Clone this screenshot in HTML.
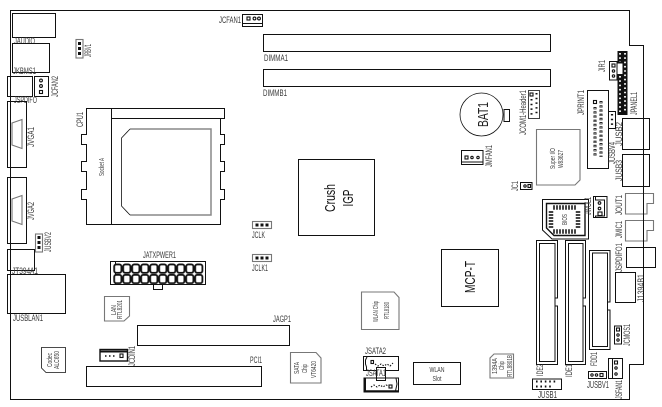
<!DOCTYPE html>
<html><head><meta charset="utf-8"><style>
html,body{margin:0;padding:0;background:#fff;width:662px;height:407px;overflow:hidden}
svg{display:block}
text{font-family:"Liberation Sans",sans-serif;font-size:9.5px;fill:#3a3a3a}
.b{fill:none;stroke:#111;stroke-width:1}
.t{fill:none;stroke:#111;stroke-width:.8}
.g{fill:#fff;stroke:#777;stroke-width:1.1}
.p{fill:none;stroke:#111;stroke-width:1.1}
</style></head><body>
<svg width="662" height="407" viewBox="0 0 662 407" xmlns="http://www.w3.org/2000/svg">
<defs>
<pattern id="atx" x="113.3" y="263.5" width="9" height="10.4" patternUnits="userSpaceOnUse">
<rect x=".9" y=".9" width="7.2" height="8.4" rx="2" fill="#fff" stroke="#111" stroke-width="1.8"/>
</pattern>
</defs>
<rect width="662" height="407" fill="#fff"/>
<!-- board -->
<path class="b" d="M10.5 10.5H629.5V45.5H643.5V364.5H629.5V399.5H10.5Z"/>

<!-- left connectors -->
<rect class="b" x="12.5" y="13.5" width="43" height="24" style="fill:#fff"/>
<text x="14" y="44" textLength="21" lengthAdjust="spacingAndGlyphs">JAUDIO</text>
<rect class="b" x="12.5" y="43.5" width="37" height="29"/>
<text x="13" y="74" textLength="23" lengthAdjust="spacingAndGlyphs">JKBMS1</text>
<rect class="b" x="7.5" y="76.5" width="25" height="20"/>
<rect class="b" x="34.5" y="76.5" width="14" height="20"/>
<circle cx="41" cy="80.5" r="1.4" class="p"/><circle cx="41" cy="86" r="1.4" class="p"/><rect x="39.5" y="90.5" width="3" height="3" class="p"/>
<text transform="translate(58,97) rotate(-90)" textLength="21" lengthAdjust="spacingAndGlyphs">JCFAN2</text>
<text x="14" y="103" textLength="23" lengthAdjust="spacingAndGlyphs">JSPDIFO</text>
<rect class="g" x="76" y="39.5" width="7" height="18.5"/>
<path class="p" d="M79.5 42v14" stroke-dasharray="3 2" style="stroke-width:3"/>
<text transform="translate(91,57) rotate(-90)" textLength="13" lengthAdjust="spacingAndGlyphs">JRBV1</text>

<rect class="b" x="7.5" y="101.5" width="19" height="66"/>
<path class="g" d="M22 119.5 L12 123V145L22 148.5Z"/>
<text transform="translate(34,147) rotate(-90)" textLength="20" lengthAdjust="spacingAndGlyphs">JVGA1</text>
<rect class="b" x="7.5" y="177.5" width="19" height="66"/>
<path class="g" d="M22 195.5 L12 199V221L22 224.5Z"/>
<text transform="translate(34,220) rotate(-90)" textLength="18" lengthAdjust="spacingAndGlyphs">JVGA2</text>
<rect class="g" x="35.5" y="234" width="7" height="18"/>
<path class="p" d="M39 236v15" stroke-dasharray="3 2" style="stroke-width:3"/>
<text transform="translate(51,252) rotate(-90)" textLength="20" lengthAdjust="spacingAndGlyphs">JUSBV2</text>
<rect class="b" x="7.5" y="249.5" width="27" height="21"/>
<text x="12" y="274" textLength="26" lengthAdjust="spacingAndGlyphs">JT394A1</text>
<rect class="b" x="7.5" y="274.5" width="58" height="39"/>
<text x="13" y="321" textLength="30" lengthAdjust="spacingAndGlyphs">JUSBLAN1</text>

<!-- CPU socket -->
<path class="b" d="M86.5 108.5H224.5V118.5H220.5V134.5H224.5V144.5H220.5V161.5H224.5V171.5H220.5V189.5H224.5V199.5H220.5V224.5H86.5V199.5H81.5V189.5H86.5V171.5H81.5V161.5H86.5V144.5H81.5V134.5H86.5Z"/>
<path class="b" d="M111.5 108.5V224.5M111.5 118.5H224.5"/>
<path fill="none" stroke="#888" stroke-width="1.5" d="M130 129H211V215H130"/>
<path class="t" d="M130 129L121.5 138V206L130 215"/>
<text transform="translate(83,127) rotate(-90)" textLength="15" lengthAdjust="spacingAndGlyphs">CPU1</text>
<text transform="translate(104,176) rotate(-90)" textLength="18" lengthAdjust="spacingAndGlyphs" style="font-size:7px">Socket A</text>

<!-- top -->
<text x="219" y="23" textLength="22" lengthAdjust="spacingAndGlyphs">JCFAN1</text>
<rect class="b" x="242.5" y="14.5" width="20" height="12"/>
<path class="b" d="M242.5 23.5H262.5"/>
<rect x="247" y="17" width="3" height="3" class="p"/><circle cx="254.5" cy="18.5" r="1.4" class="p"/><circle cx="259" cy="18.5" r="1.4" class="p"/>
<rect class="b" x="263.5" y="34.5" width="287" height="17"/>
<text x="264" y="61" textLength="24" lengthAdjust="spacingAndGlyphs">DIMMA1</text>
<rect class="b" x="263.5" y="69.5" width="287" height="17"/>
<text x="263" y="96" textLength="24" lengthAdjust="spacingAndGlyphs">DIMMB1</text>

<!-- IGP -->
<rect class="b" x="298.5" y="159.5" width="76" height="76"/>
<text transform="translate(335,198) rotate(-90)" text-anchor="middle" style="font-size:15px;fill:#111" textLength="28" lengthAdjust="spacingAndGlyphs">Crush</text>
<text transform="translate(353,198) rotate(-90)" text-anchor="middle" style="font-size:15px;fill:#111" textLength="17" lengthAdjust="spacingAndGlyphs">IGP</text>

<!-- JCLK -->
<rect class="g" x="252.5" y="221.5" width="19" height="7"/>
<path class="p" d="M255.5 225h14" stroke-dasharray="3 2" style="stroke-width:3"/>
<text x="252" y="238" textLength="13" lengthAdjust="spacingAndGlyphs">JCLK</text>
<rect class="g" x="252.5" y="254.5" width="19" height="7"/>
<path class="p" d="M255.5 258h14" stroke-dasharray="3 2" style="stroke-width:3"/>
<text x="252" y="271" textLength="16" lengthAdjust="spacingAndGlyphs">JCLK1</text>

<!-- ATX -->
<text x="143" y="258" textLength="33" lengthAdjust="spacingAndGlyphs">JATXPWER1</text>
<rect class="b" x="110.5" y="261.5" width="95" height="23"/>
<path class="b" d="M115.5 261.5V284.5"/>
<rect x="113.3" y="263.5" width="90" height="20.8" fill="url(#atx)"/>
<path class="b" d="M153.5 284.5V289.5H162.5V284.5"/>

<!-- LAN / Codec -->
<path class="g" d="M104.5 296.5H129.5V316L124 321H104.5Z"/>
<text transform="translate(116,315) rotate(-90)" style="font-size:7px" textLength="10" lengthAdjust="spacingAndGlyphs">LAN</text>
<text transform="translate(122,319) rotate(-90)" style="font-size:7px" textLength="19" lengthAdjust="spacingAndGlyphs">RTL8201</text>
<path class="t" d="M41.5 347.5H65.5V372.5H46L41.5 368Z"/>
<text transform="translate(52,367) rotate(-90)" style="font-size:7px" textLength="14" lengthAdjust="spacingAndGlyphs">Codec</text>
<text transform="translate(59,369) rotate(-90)" style="font-size:7px" textLength="18" lengthAdjust="spacingAndGlyphs">ALC650</text>
<rect x="100" y="349.5" width="27.5" height="11.5" fill="none" stroke="#111" stroke-width="1.4"/>
<path d="M100 351.5H127.5" stroke="#111" stroke-width="2" fill="none"/>
<path class="p" d="M105 356h11" stroke-dasharray="1.5 2.5" style="stroke-width:1.5"/>
<rect x="120" y="354" width="3" height="3.5" class="p"/>
<text transform="translate(135,366) rotate(-90)" textLength="20" lengthAdjust="spacingAndGlyphs">JCDIN1</text>

<rect class="b" x="137.5" y="325.5" width="152" height="20"/>
<text x="273" y="322" textLength="18" lengthAdjust="spacingAndGlyphs">JAGP1</text>
<rect class="b" x="86.5" y="366.5" width="175" height="20"/>
<text x="250" y="363" textLength="12" lengthAdjust="spacingAndGlyphs">PCI1</text>

<path class="g" d="M290.5 352.5H316L321 358V383H290.5Z"/>
<text transform="translate(299,374) rotate(-90)" style="font-size:7px" textLength="12" lengthAdjust="spacingAndGlyphs">SATA</text>
<text transform="translate(307,373) rotate(-90)" style="font-size:7px" textLength="9" lengthAdjust="spacingAndGlyphs">Chip</text>
<text transform="translate(316,378) rotate(-90)" style="font-size:7px" textLength="17" lengthAdjust="spacingAndGlyphs">VT6420</text>
<path class="g" d="M361.5 292H394L399 297.5V329.5H361.5Z"/>
<text transform="translate(378,322) rotate(-90)" style="font-size:7.5px" textLength="21" lengthAdjust="spacingAndGlyphs">WLAN Chip</text>
<text transform="translate(389,319) rotate(-90)" style="font-size:7.5px" textLength="17" lengthAdjust="spacingAndGlyphs">RTL8180</text>

<!-- SATA connectors -->
<text x="365" y="354" textLength="21" lengthAdjust="spacingAndGlyphs">JSATA2</text>
<rect class="b" x="363.5" y="356.5" width="35" height="14"/>
<path class="b" d="M366.5 370.5V367L365.5 364V360L367 357"/>
<rect x="371" y="360.5" width="2.5" height="3" class="p"/>
<path class="p" d="M375 364l3 2 3-2 3 2 3-2 3 2 3-3" stroke-dasharray="1.5 1.5"/>
<rect class="b" x="376.5" y="367.5" width="9" height="13" style="fill:#fff"/>
<text x="366" y="376" textLength="20" lengthAdjust="spacingAndGlyphs">JSATA1</text>
<rect x="364" y="378" width="34.5" height="14" fill="none" stroke="#111" stroke-width="1"/>
<path d="M365 378V392" stroke="#111" stroke-width="2"/>
<path d="M365 391H398" stroke="#111" stroke-width="1.5"/>
<path class="p" d="M371 387l3-2 3 2 3-2 3 2 3-2 3 1" stroke-dasharray="1.5 1.5"/>
<rect x="389" y="385" width="3" height="3" class="p"/>
<path class="b" d="M396 378L397 384L395.5 391"/>
<rect class="b" x="413.5" y="362.5" width="47" height="22"/>
<text x="437" y="372" text-anchor="middle" style="font-size:7.5px" textLength="15" lengthAdjust="spacingAndGlyphs">WLAN</text>
<text x="437" y="381" text-anchor="middle" style="font-size:7.5px" textLength="9" lengthAdjust="spacingAndGlyphs">Slot</text>

<path class="g" d="M494 354H513.5V378H490V358Z"/>
<text transform="translate(497,374) rotate(-90)" style="font-size:7px" textLength="16" lengthAdjust="spacingAndGlyphs">1394A</text>
<text transform="translate(504,370) rotate(-90)" style="font-size:7px" textLength="9" lengthAdjust="spacingAndGlyphs">Chip</text>
<text transform="translate(512,377) rotate(-90)" style="font-size:7px" textLength="22" lengthAdjust="spacingAndGlyphs">RTL8801B</text>

<!-- BAT -->
<circle cx="481.5" cy="114.5" r="21.5" class="t"/>
<rect class="b" x="504" y="109.5" width="5.5" height="12" style="fill:#fff"/>
<text transform="translate(488,114.5) rotate(-90)" text-anchor="middle" style="font-size:15px;fill:#222" textLength="25" lengthAdjust="spacingAndGlyphs">BAT1</text>
<text transform="translate(526,135) rotate(-90)" textLength="45" lengthAdjust="spacingAndGlyphs">JCOM1-Header1</text>
<rect class="t" x="528.5" y="90.5" width="11" height="28"/>
<rect x="530" y="93" width="3" height="3" class="p"/>
<path class="p" d="M531.5 99v17M536.5 93v23" stroke-dasharray="1.5 3.2" style="stroke-width:2"/>

<!-- Super IO -->
<path class="g" d="M536.5 129.5H580V180L575 185H536.5Z"/>
<text transform="translate(555,169) rotate(-90)" style="font-size:7px" textLength="21" lengthAdjust="spacingAndGlyphs">Super I/O</text>
<text transform="translate(563,168) rotate(-90)" style="font-size:7px" textLength="18" lengthAdjust="spacingAndGlyphs">W83627</text>
<rect class="b" x="461.5" y="150.5" width="21.5" height="14"/>
<path class="b" d="M461.5 162H483"/>
<rect x="465" y="156" width="3" height="3" class="p"/><circle cx="472" cy="157.5" r="1.2" class="p"/><circle cx="478" cy="157.5" r="1.2" class="p"/>
<text transform="translate(492,167) rotate(-90)" textLength="22" lengthAdjust="spacingAndGlyphs">JMFAN1</text>
<text transform="translate(518,191) rotate(-90)" textLength="10" lengthAdjust="spacingAndGlyphs">JC1</text>
<rect class="b" x="520.5" y="182.5" width="11.5" height="7"/>
<circle cx="525" cy="186" r="1.2" class="p"/><rect x="528" y="184.5" width="2.5" height="3" class="p"/>

<!-- BIOS -->
<path class="t" d="M542.5 199.5H588.5V239H552L542.5 230Z" style="stroke-width:1"/>
<path d="M546.5 203.5H585V235.5H554L546.5 228Z" fill="none" stroke="#111" stroke-width="1.4"/>
<path d="M553 207.5H576M553 231.5H576" stroke="#444" stroke-width="4.5" stroke-dasharray="2 1" fill="none"/>
<path d="M551 211V229M578 211V229" stroke="#444" stroke-width="4.5" stroke-dasharray="2 1" fill="none"/>
<text transform="translate(567,225) rotate(-90)" style="font-size:7px" textLength="11" lengthAdjust="spacingAndGlyphs">BIOS</text>
<text transform="translate(591,215) rotate(-90)" textLength="18" lengthAdjust="spacingAndGlyphs">JWOL1</text>
<rect class="b" x="593.5" y="196.5" width="13.5" height="21"/>
<path class="b" d="M595.5 196.5V200H604.5V216H595.5V217.5"/>
<circle cx="599.5" cy="203" r="1.3" class="p"/><circle cx="599.5" cy="208.5" r="1.3" class="p"/><rect x="598" y="212" width="4" height="3.5" class="p"/>

<!-- MCP -->
<rect class="b" x="441.5" y="249.5" width="57" height="57"/>
<text transform="translate(475,277) rotate(-90)" text-anchor="middle" style="font-size:15px;fill:#111" textLength="32" lengthAdjust="spacingAndGlyphs">MCP-T</text>

<!-- IDE / FDD -->
<path class="b" d="M536.5 240.5H557.5V298H555V306H557.5V364.5H536.5Z"/>
<path class="b" d="M555 298V243.5H539.5V361.5H555V306"/>
<text transform="translate(543,376) rotate(-90)" textLength="12" lengthAdjust="spacingAndGlyphs">IDE2</text>
<path class="b" d="M565.5 240.5H585.5V298H583V306H585.5V364.5H565.5Z"/>
<path class="b" d="M583 298V243.5H568.5V361.5H583V306"/>
<text transform="translate(572,377) rotate(-90)" textLength="13" lengthAdjust="spacingAndGlyphs">IDE1</text>
<path class="b" d="M589.5 250.5H610V302H607.5V310H610V349.5H589.5Z"/>
<path class="b" d="M607.5 302V253H592.5V346.5H607.5V310"/>
<text transform="translate(597,366) rotate(-90)" textLength="14" lengthAdjust="spacingAndGlyphs">FDD1</text>

<!-- bottom right -->
<rect class="b" x="532.5" y="379" width="29" height="10.5"/>
<path class="p" d="M536 381.5h22M536 386.5h17" stroke-dasharray="1.6 2.8" style="stroke-width:2"/>
<text x="538" y="398" textLength="19" lengthAdjust="spacingAndGlyphs" style="font-size:10.5px">JUSB1</text>
<rect class="b" x="588.5" y="371.5" width="18" height="7"/>
<circle cx="592" cy="375" r="1.2" class="p"/><circle cx="596.5" cy="375" r="1.2" class="p"/><rect x="600" y="373.5" width="3" height="3" class="p"/>
<text x="587" y="388" textLength="22" lengthAdjust="spacingAndGlyphs" style="font-size:10.5px">JUSBV1</text>
<rect class="b" x="608.5" y="358.5" width="14" height="20"/>
<path class="b" d="M612.5 358.5V378.5"/>
<rect x="614.5" y="361" width="3" height="3" class="p"/><circle cx="616" cy="368" r="1.2" class="p"/><circle cx="616" cy="374" r="1.2" class="p"/>
<text transform="translate(622,399) rotate(-90)" textLength="19" lengthAdjust="spacingAndGlyphs">JSFAN1</text>
<rect class="b" x="614.5" y="326" width="7" height="18"/>
<rect x="616.5" y="328" width="3" height="3" class="p"/><circle cx="618" cy="335" r="1.2" class="p"/><circle cx="618" cy="340" r="1.2" class="p"/>
<text transform="translate(630,346) rotate(-90)" textLength="22" lengthAdjust="spacingAndGlyphs">JCMOS1</text>

<!-- right panel -->
<rect class="b" x="622.5" y="118.5" width="27" height="31"/>
<rect class="b" x="622.5" y="154.5" width="27" height="32"/>
<text transform="translate(622,146) rotate(-90)" textLength="24" lengthAdjust="spacingAndGlyphs">JUSB2</text>
<text transform="translate(622,181) rotate(-90)" textLength="21" lengthAdjust="spacingAndGlyphs">JUSB3</text>
<rect class="b" x="587.5" y="90.5" width="21" height="78"/>
<rect x="593.5" y="100.5" width="3" height="3" class="p"/>
<path class="p" d="M595 107v50M601 101v56" stroke-dasharray="2.4 1.8" style="stroke-width:3;stroke:#222"/>
<path d="M595 108v50M601 102v56" stroke="#fff" stroke-width="1" stroke-dasharray="1 3.2" fill="none"/>
<text transform="translate(584,115) rotate(-90)" textLength="25" lengthAdjust="spacingAndGlyphs">JPRINT1</text>
<rect class="b" x="608.5" y="111.5" width="7" height="17"/>
<path class="p" d="M612 114v13" stroke-dasharray="1.5 3.2" style="stroke-width:2.2"/>
<text transform="translate(615,164) rotate(-90)" textLength="22" lengthAdjust="spacingAndGlyphs">JUSBV4</text>
<text transform="translate(605,72) rotate(-90)" textLength="12" lengthAdjust="spacingAndGlyphs">JIR1</text>
<rect class="b" x="609.5" y="61.5" width="7.5" height="18.5" style="fill:#fff"/>
<rect x="612" y="64" width="3" height="3" class="p"/><circle cx="613.5" cy="71" r="1.2" class="p"/><circle cx="613.5" cy="76" r="1.2" class="p"/>
<rect x="617.5" y="51" width="10" height="64" fill="#111"/>
<rect x="617.5" y="63.5" width="5" height="10.5" fill="#fff"/>
<path d="M625 53v60M620 76v37M620 53v9" stroke="#fff" stroke-width="1.8" stroke-dasharray="1.6 2.7" fill="none"/>
<text transform="translate(637,115) rotate(-90)" textLength="23" lengthAdjust="spacingAndGlyphs">JPANEL1</text>
<path class="g" d="M625.5 193.5H653.5V203.5H647V214H625.5Z"/>
<text transform="translate(622,215) rotate(-90)" textLength="20" lengthAdjust="spacingAndGlyphs">JOUT1</text>
<path class="g" d="M625.5 220.5H653.5V230.5H647V241H625.5Z"/>
<text transform="translate(622,238) rotate(-90)" textLength="17" lengthAdjust="spacingAndGlyphs">JMIC1</text>
<rect class="b" x="626.5" y="247.5" width="29" height="20"/>
<text transform="translate(622,272) rotate(-90)" textLength="29" lengthAdjust="spacingAndGlyphs">JSPDIFO1</text>
<rect class="b" x="615.5" y="272.5" width="20" height="30"/>
<text transform="translate(644,302) rotate(-90)" textLength="28" lengthAdjust="spacingAndGlyphs">J1394B1</text>
<path class="b" d="M643.5 45.5V364.5"/>
</svg>
</body></html>
